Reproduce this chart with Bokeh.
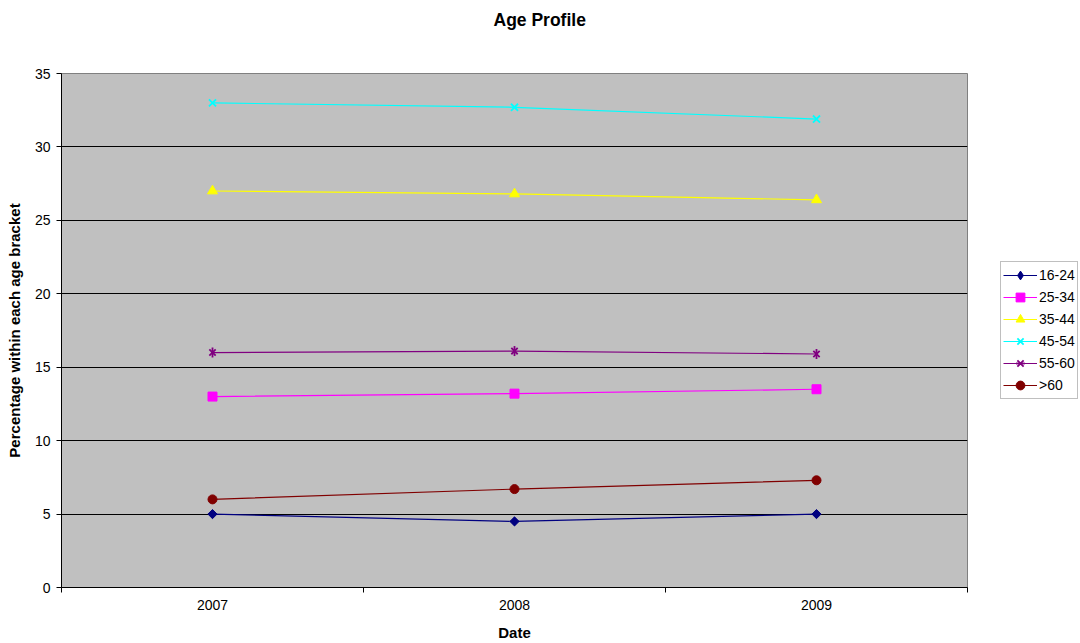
import math

from bokeh.plotting import figure
from bokeh.models import FixedTicker, Legend, LegendItem, Range1d, Title
from bokeh.embed import file_html
from bokeh.resources import INLINE

years = ["2007", "2008", "2009"]
ages_16_24 = [5.0, 4.5, 5.0]
ages_25_34 = [13.0, 13.2, 13.5]
ages_35_44 = [27.0, 26.8, 26.4]
ages_45_54 = [33.0, 32.7, 31.9]
ages_55_60 = [16.0, 16.1, 15.9]
ages_over_60 = [6.0, 6.7, 7.3]
y_ticks = [0, 5, 10, 15, 20, 25, 30, 35]

FONT = "Liberation Sans"
QUARTER = math.pi / 4
UPRIGHT = math.pi / 2

# name, values, colour, marker parts as (marker, size, angle, shown in legend)
series = [
    ("16-24", ages_16_24, "#000080", [("diamond", 8, 0, True),
                                      ("square", 6.5, QUARTER, False)]),
    ("25-34", ages_25_34, "#FF00FF", [("square", 9, 0, True)]),
    ("35-44", ages_35_44, "#FFFF00", [("triangle", 10, 0, True)]),
    ("45-54", ages_45_54, "#00FFFF", [("x", 10, 0, True)]),
    ("55-60", ages_55_60, "#800080", [("x", 9, 0, True), ("dash", 10, UPRIGHT, True)]),
    (">60", ages_over_60, "#800000", [("circle", 9, 0, True)]),
]

# each year sits in the middle of its own band on the x axis
xs = [i + 0.5 for i in range(len(years))]

p = figure(frame_width=906, frame_height=514, output_backend="svg",
           toolbar_location=None,
           x_range=Range1d(0, len(years)), y_range=Range1d(0, 35),
           min_border_left=61, min_border_right=113, min_border_top=73,
           min_border_bottom=56)
p.title = None
# blank title acts as a gap between the frame and the real title
p.add_layout(Title(text=" ", text_font_size="1px", standoff=40), "above")
p.add_layout(Title(text="Age Profile", align="left", offset=432,
                   vertical_align="middle",
                   text_font=FONT, text_font_size="17.5px", text_font_style="bold",
                   text_color="black", standoff=0), "above")

p.background_fill_color = "#C0C0C0"
p.border_fill_color = "white"
p.outline_line_color = "#808080"
p.outline_line_width = 1

# x axis: labels at band centres, tick marks on band edges
p.xaxis.ticker = FixedTicker(ticks=xs, minor_ticks=list(range(len(years) + 1)))
p.xaxis.major_label_overrides = {x: y for x, y in zip(xs, years)}
p.xaxis.major_tick_line_color = None
p.xaxis.minor_tick_line_color = "black"
p.xaxis.minor_tick_in = 0
p.xaxis.minor_tick_out = 5
p.xaxis.axis_label = "Date"

p.yaxis.ticker = FixedTicker(ticks=y_ticks)
p.yaxis.major_tick_in = 0
p.yaxis.major_tick_out = 5
p.yaxis.minor_tick_line_color = None
p.yaxis.axis_label = "Percentage within each age bracket"

for ax in (p.xaxis, p.yaxis):
    ax.axis_line_color = "black"
    ax.major_label_text_font = FONT
    ax.major_label_text_font_size = "14px"
    ax.major_label_text_color = "black"
    ax.axis_label_text_font = FONT
    ax.axis_label_text_font_size = "15px"
    ax.axis_label_text_font_style = "bold"
    ax.axis_label_text_color = "black"
p.xaxis.major_label_standoff = 6
p.xaxis.axis_label_standoff = 11
p.yaxis.major_label_standoff = 6
p.yaxis.axis_label_standoff = 9

p.xgrid.grid_line_color = None
p.ygrid.grid_line_color = "black"
p.ygrid.grid_line_width = 1

items = []
for name, vals, color, parts in series:
    rs = [p.line(xs, vals, line_color=color, line_width=1.2)]
    for marker, size, angle, in_legend in parts:
        thin = marker in ("x", "dash")
        r = p.scatter(xs, vals, marker=marker, size=size, angle=angle,
                      fill_color=color, line_color=color,
                      line_width=1.8 if thin else 1)
        if in_legend:
            rs.append(r)
    items.append(LegendItem(label=name, renderers=rs))

legend = Legend(items=items, location=(33, 188), orientation="vertical",
                label_text_font=FONT, label_text_font_size="14px",
                label_text_color="black", glyph_width=34, glyph_height=22,
                label_standoff=2, spacing=0, padding=2, margin=0,
                border_line_color="#808080", border_line_width=1,
                background_fill_color="white", background_fill_alpha=1)
p.add_layout(legend, "right")

open("out.html", "w").write(file_html(p, INLINE))
